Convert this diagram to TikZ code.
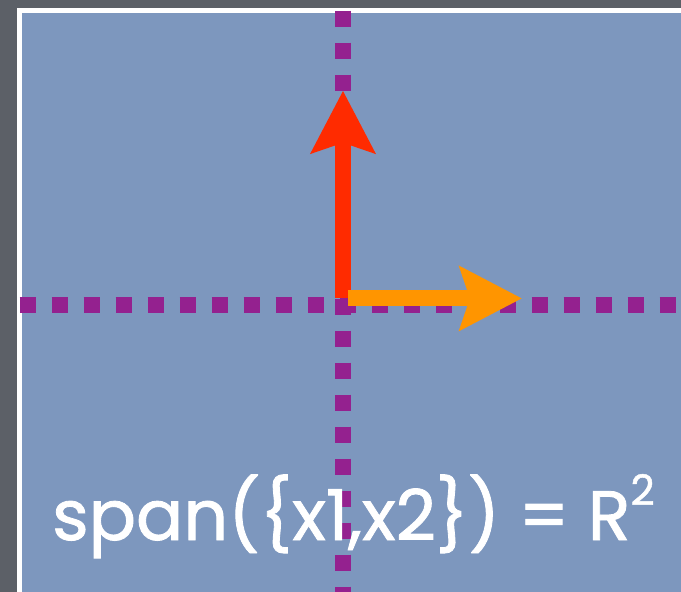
\documentclass[tikz,border=0pt]{standalone}
\usepackage{fontspec}
\setmainfont{Poppins}
\newfontfamily\spanfont{Poppins}[FakeBold=1.2]
\usetikzlibrary{arrows.meta}
\definecolor{slate}{HTML}{5C6067}
\definecolor{paneblue}{HTML}{7D97BE}
\definecolor{axispurple}{HTML}{94218F}
\definecolor{vecred}{HTML}{FF2B00}
\definecolor{vecorange}{HTML}{FF9500}
\tikzset{
  axisdots/.style={axispurple, line width=16pt, dash pattern=on 16pt off 16pt},
  vec/.style={line width=16pt, -{Stealth[length=62pt,width=63pt,inset=10pt]}},
  spantext/.style={white, anchor=base west, inner sep=0pt, font=\spanfont\fontsize{70}{72}\selectfont},
}
\begin{document}
\begin{tikzpicture}[x=1pt,y=-1pt]
  \useasboundingbox (0,0) rectangle (681,592);
  \clip (0,0) rectangle (681,592);
  \fill[slate] (0,0) rectangle (681,592);
  \fill[white] (16.5,8) rectangle (700,620);
  \fill[paneblue] (21.5,12.7) rectangle (700,620);
  \coordinate (hleft) at (19.5,304.5);
  \coordinate (hright) at (700,304.5);
  \coordinate (vtop) at (343,10.5);
  \coordinate (vbottom) at (343,620);
  \draw[axisdots] (hleft) -- (hright);
  \draw[axisdots] (vtop) -- (vbottom);
  \coordinate (x1base) at (343,298);
  \coordinate (x1tip) at (343,90.7);
  \coordinate (x2base) at (348,298.4);
  \coordinate (x2tip) at (522,298.4);
  \draw[vec, vecred] (x1base) -- (x1tip);
  \draw[vec, vecorange] (x2base) -- (x2tip);
  \node[spantext] (spanlabel) at (52,540){span(\{x1,x2\}) = R\raisebox{0.5em}{\fontsize{42}{44}\selectfont 2}};
\end{tikzpicture}
\end{document}
